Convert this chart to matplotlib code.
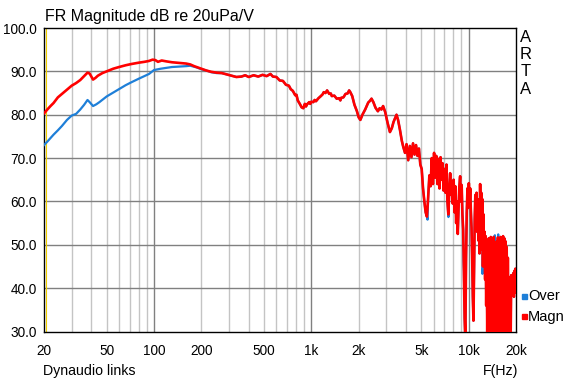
import matplotlib
matplotlib.use("Agg")
import matplotlib.pyplot as plt
from matplotlib.patches import Rectangle

plt.rcParams["font.family"] = ["Liberation Sans", "DejaVu Sans"]

# -------------------------
# Daten (Hz, dB)
# -------------------------

magn_low = [
    (20, 80.3), (21, 81.2), (22, 82.0), (23, 82.7), (24.5, 84.0), (26, 84.8),
    (28, 85.8), (30, 86.7), (32, 87.3), (34, 88.0), (36, 88.9), (37.8, 89.7),
    (39, 89.5), (40, 88.8), (41, 88.1), (42.5, 88.5), (44, 89.0), (47, 89.6),
    (50, 90.0), (55, 90.6), (60, 91.0), (66, 91.4), (72, 91.7), (80, 92.0),
    (87, 92.2), (93, 92.4), (98, 92.7), (102, 92.6), (106, 92.2), (112, 92.5),
    (120, 92.3), (130, 92.1), (140, 92.0), (150, 91.9), (160, 91.8), (170, 91.6),
    (180, 91.2), (190, 90.9), (200, 90.6), (215, 90.2), (231, 89.9), (250, 89.7),
]

magn_mid = [
    (270, 89.6), (290, 89.3), (310, 89.0), (334, 88.7), (360, 88.8), (380, 89.1),
    (400, 88.7), (430, 89.1), (460, 88.8), (490, 89.2), (520, 88.9), (550, 89.4),
    (570, 88.8), (600, 88.7), (630, 87.9), (660, 87.8), (690, 86.9), (720, 86.7),
    (740, 85.9), (763, 85.5), (790, 84.5), (805, 84.6), (820, 83.3), (845, 82.5),
    (868, 81.7), (890, 81.5), (910, 82.5), (925, 81.9), (940, 82.4), (970, 82.9),
    (985, 82.5), (1000, 83.0), (1030, 82.9), (1050, 83.4), (1070, 83.1),
    (1110, 83.8), (1150, 84.3), (1180, 84.7), (1200, 85.2), (1230, 85.0),
    (1260, 85.6), (1300, 84.8), (1330, 84.9), (1350, 84.3), (1400, 84.4),
    (1450, 83.7), (1500, 83.8), (1530, 83.3), (1550, 83.9), (1600, 84.0),
    (1650, 84.8), (1700, 84.9), (1740, 85.6), (1770, 85.2), (1820, 84.3),
    (1880, 82.3), (1950, 80.8), (2000, 79.4), (2050, 78.8), (2120, 80.1),
    (2200, 81.2), (2300, 82.8), (2360, 83.2), (2414, 83.7), (2480, 82.9),
    (2560, 81.6), (2650, 80.8), (2720, 81.5), (2790, 81.2), (2860, 82.0),
    (2950, 80.6), (3050, 78.2), (3160, 76.0), (3250, 76.9), (3330, 78.3),
    (3420, 79.3), (3480, 80.0), (3560, 78.8),
]

magn_high = [
    (3660, 76.5), (3760, 74.0), (3840, 72.6), (3940, 71.2), (4030, 73.2),
    (4130, 69.5), (4230, 72.8), (4330, 70.2), (4430, 73.4), (4530, 70.8),
    (4630, 73.0), (4730, 70.5), (4830, 72.2), (4930, 68.5), (5030, 67.5),
    (5130, 63.0), (5230, 60.0), (5330, 57.5), (5430, 56.5), (5530, 61.0),
    (5630, 66.0), (5730, 63.5), (5830, 70.0), (5930, 64.0), (6030, 71.2),
    (6130, 65.5), (6230, 70.5), (6330, 64.0), (6430, 69.8), (6530, 63.0),
    (6630, 70.2), (6730, 65.0), (6830, 68.8), (6930, 62.5), (7030, 67.5),
    (7130, 62.0), (7230, 68.5), (7330, 60.0), (7430, 57.0), (7530, 62.5),
    (7630, 66.5), (7730, 61.5), (7830, 64.5), (7930, 59.5), (8030, 65.0),
    (8130, 57.5), (8230, 63.5), (8330, 55.0), (8430, 60.0), (8530, 52.5),
    (8630, 58.5), (8730, 63.5), (8830, 65.8), (8930, 60.0), (9030, 63.8),
    (9130, 57.0), (9230, 53.5), (9330, 44.0), (9430, 33.0), (9530, 28.0),
    (9630, 47.0), (9730, 57.5), (9830, 63.0), (9930, 58.5), (10030, 64.2),
    (10130, 59.5), (10230, 63.0), (10330, 58.0), (10430, 54.0), (10530, 47.0),
    (10630, 38.0), (10730, 32.5), (10830, 44.0), (10930, 56.0), (11030, 61.5),
    (11130, 56.0), (11230, 62.0), (11330, 53.0), (11430, 60.5), (11530, 51.0),
    (11630, 59.5), (11730, 48.0), (11830, 64.0), (11930, 55.0), (12030, 62.0),
    (12130, 49.0), (12230, 60.5), (12330, 45.0), (12430, 57.0), (12530, 46.5),
    (12630, 53.0), (12730, 42.0), (12830, 52.0), (12930, 36.0), (13030, 49.0),
    (13130, 29.0), (13230, 50.5), (13330, 28.0), (13430, 51.5), (13530, 29.0),
    (13630, 50.5), (13730, 28.0), (13830, 51.8), (13930, 29.0), (14030, 50.0),
    (14130, 28.0), (14230, 50.5), (14330, 29.0), (14430, 51.8), (14530, 28.0),
    (14630, 50.0), (14730, 29.0), (14830, 49.5), (14930, 28.0), (15050, 50.8),
    (15200, 29.0), (15350, 51.7), (15500, 28.0), (15650, 50.5), (15800, 29.0),
    (15950, 51.8), (16100, 28.0), (16250, 50.5), (16400, 29.0), (16550, 52.0),
    (16700, 30.0), (16850, 51.5), (17000, 35.0), (17150, 50.8), (17300, 29.0),
    (17450, 49.5), (17600, 31.0), (17750, 47.0), (17900, 29.0), (18050, 42.5),
    (18200, 37.0), (18350, 41.5), (18500, 29.0), (18650, 43.0), (18800, 38.5),
    (18950, 42.5), (19100, 39.0), (19250, 43.5), (19400, 38.0), (19550, 44.0),
    (19700, 39.0), (19850, 44.5), (20000, 43.5),
]

over_low = [
    (20, 73.0), (21, 73.8), (22, 74.6), (23, 75.4), (24.5, 76.4), (26, 77.4),
    (28, 78.8), (30, 79.8), (31, 80.0), (32, 80.2), (34, 81.2), (36, 82.3),
    (37.8, 83.4), (39, 82.9), (41, 82.0), (43, 82.4), (45, 82.9), (50, 84.2),
    (55, 85.1), (60, 85.9), (66, 86.8), (72, 87.5), (80, 88.3), (87, 88.9),
    (93, 89.4), (100, 90.3), (110, 90.6), (120, 90.8), (130, 91.0), (146, 91.1),
    (160, 91.2), (170, 91.3), (187, 90.9), (200, 90.5), (215, 90.2), (231, 89.8),
    (250, 89.6),
]

# Stellen, an denen die blaue Kurve unter/ueber der roten sichtbar wird
over_dips = [
    (5480, 55.8), (6080, 68.9), (7440, 56.4), (9280, 46.0), (12240, 43.3),
    (14680, 52.2), (15420, 52.4),
]

ytick_vals = [30, 40, 50, 60, 70, 80, 90, 100]
xtick_vals = [20, 50, 100, 200, 500, 1000, 2000, 5000, 10000, 20000]
xtick_labels = ["20", "50", "100", "200", "500", "1k", "2k", "5k", "10k", "20k"]

COLOR_MAGN = "#ff0000"
COLOR_OVER = "#1e7fd8"

magn = magn_low + magn_mid + magn_high
over = sorted(over_low + magn_mid + magn_high + over_dips)

# -------------------------
# Plot
# -------------------------

fig = plt.figure(figsize=(5.7, 3.82), dpi=100, facecolor="white")
ax = fig.add_axes([44 / 570, 1 - 331.5 / 382, 472 / 570, 303.5 / 382])

ax.set_xscale("log")
ax.set_xlim(20, 20000)
ax.set_ylim(30, 100)

# Gitter
for dec in [10, 100, 1000, 10000]:
    for m in range(1, 10):
        f = dec * m
        if f <= 20 or f >= 20000:
            continue
        if m == 1:
            ax.axvline(f, color="#808080", lw=1.0, zorder=1)
        else:
            ax.axvline(f, color="#c4c4c4", lw=1.0, zorder=1)
for y in ytick_vals[1:-1]:
    ax.axhline(y, color="#808080", lw=1.0, zorder=1)

# Marker-Linie
ax.axvline(20.6, color="#f0d000", lw=0.8, zorder=2)

ax.plot([p[0] for p in over], [p[1] for p in over], color=COLOR_OVER, lw=1.6, zorder=3)
ax.plot([p[0] for p in magn], [p[1] for p in magn], color=COLOR_MAGN, lw=1.9, zorder=4)

ax.set_xticks(xtick_vals)
ax.set_xticklabels(xtick_labels)
ax.set_xticks([], minor=True)
ax.set_yticks(ytick_vals)
ax.set_yticklabels([f"{v:.1f}" for v in ytick_vals])
ax.tick_params(axis="both", length=0, labelsize=9.8, colors="black")
ax.tick_params(axis="x", pad=9)
ax.tick_params(axis="y", pad=5)

for s in ax.spines.values():
    s.set_color("black")
    s.set_linewidth(1.0)

# Texte
fig.text(45 / 570, 1 - 17 / 382, "FR Magnitude dB re 20uPa/V", fontsize=11.5, va="center", ha="left")
fig.text(43 / 570, 1 - 371 / 382, "Dynaudio links", fontsize=10.2, va="center", ha="left")
fig.text(518 / 570, 1 - 371 / 382, "F(Hz)", fontsize=10.2, va="center", ha="right")

for i, ch in enumerate("ARTA"):
    fig.text(526 / 570, 1 - (37 + i * 17.5) / 382, ch, fontsize=12, va="center", ha="center")

# Legende
fig.patches.append(Rectangle((522 / 570, 1 - 299 / 382), 4.5 / 570, 5 / 382,
                             transform=fig.transFigure, color=COLOR_OVER))
fig.patches.append(Rectangle((522 / 570, 1 - 319 / 382), 4.5 / 570, 5 / 382,
                             transform=fig.transFigure, color=COLOR_MAGN))
fig.text(528 / 570, 1 - 296 / 382, "Over", fontsize=10.5, va="center", ha="left")
fig.text(528 / 570, 1 - 316.5 / 382, "Magn", fontsize=10.5, va="center", ha="left")

fig.savefig("out.png", dpi=100, facecolor="white")
